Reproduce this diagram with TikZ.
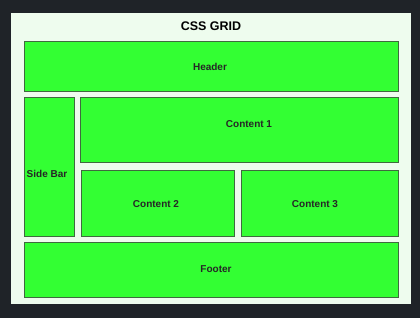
\documentclass[tikz,border=0pt]{standalone}
\usepackage{fontspec}
\setmainfont{Liberation Sans}
\definecolor{pagebg}{HTML}{1F2328}
\definecolor{panelbg}{HTML}{EEFCEE}
\definecolor{cellfill}{HTML}{33FF33}
\definecolor{cellline}{HTML}{3F6A3F}
\begin{document}
\begin{tikzpicture}[x=1pt,y=-1pt,
  cell/.style={draw=cellline,fill=cellfill,line width=0.9pt},
  celltext/.style={font=\bfseries\fontsize{10}{11}\selectfont,text=black!85}]
% page and panel
\fill[pagebg] (0,0) rectangle (420,318);
\useasboundingbox (0,0) rectangle (420,318);
\fill[panelbg] (11,13) rectangle (411,304);
\node[font=\bfseries\fontsize{12.5}{14}\selectfont] (title) at (211,26) {CSS GRID};
% grid cells
\draw[cell] (24,41) rectangle (398,91);
\node[celltext] (header) at (210,67) {Header};
\draw[cell] (24,97) rectangle (74,236);
\node[celltext] (sidebar) at (47,174) {Side Bar};
\draw[cell] (80,97) rectangle (398,162);
\node[celltext] (content1) at (249,124) {Content 1};
\draw[cell] (81,170) rectangle (234,236);
\node[celltext] (content2) at (156,204) {Content 2};
\draw[cell] (241,170) rectangle (398,236);
\node[celltext] (content3) at (315,204) {Content 3};
\draw[cell] (24,242) rectangle (398,297);
\node[celltext] (footer) at (216,269) {Footer};
\end{tikzpicture}
\end{document}
